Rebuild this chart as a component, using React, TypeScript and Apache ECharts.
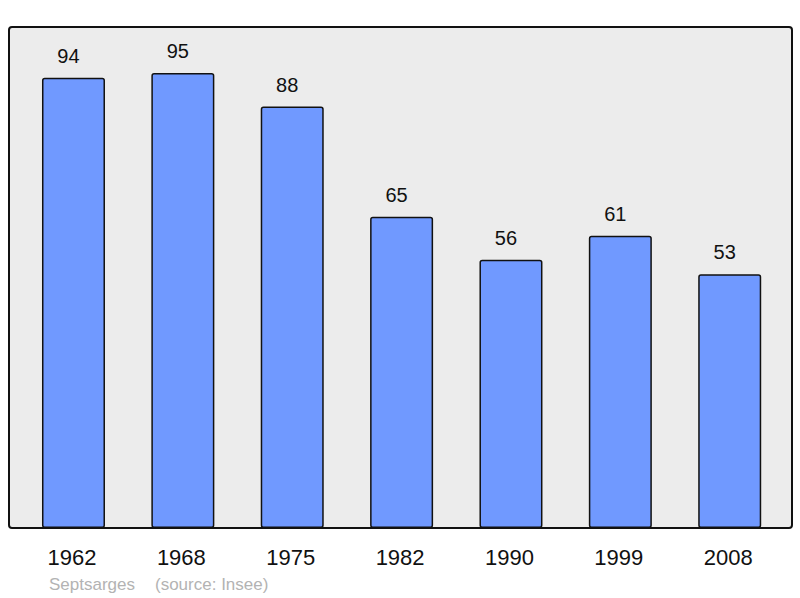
import React, { useEffect, useRef } from "react";
import * as echarts from "echarts";

const years = ["1962", "1968", "1975", "1982", "1990", "1999", "2008"];
const population = [94, 95, 88, 65, 56, 61, 53];
const townName = "Septsarges";
const sourceText = "(source: Insee)";

export default function App() {
  const ref = useRef<HTMLDivElement>(null);
  useEffect(() => {
    if (!ref.current) return;
    const chart = echarts.init(ref.current, null, { renderer: "svg" });
    chart.setOption({
      animation: false,
      backgroundColor: "#ffffff",
      textStyle: { fontFamily: "Liberation Sans, Arial, sans-serif" },
      graphic: [
        {
          type: "rect",
          z: -10,
          shape: { x: 9, y: 27, width: 783, height: 501, r: 3 },
          style: { fill: "#ececec", stroke: "#111", lineWidth: 2 },
        },
        {
          type: "text",
          left: 49,
          top: 576,
          style: {
            text: townName,
            fill: "#b3b3b3",
            fontSize: 17,
            fontFamily: "Liberation Sans, Arial, sans-serif",
          },
        },
        {
          type: "text",
          left: 155,
          top: 576,
          style: {
            text: sourceText,
            fill: "#b3b3b3",
            fontSize: 17,
            fontFamily: "Liberation Sans, Arial, sans-serif",
          },
        },
      ],
      grid: { left: 18.8, right: 15.6, top: 27, bottom: 70, containLabel: false },
      xAxis: {
        type: "category",
        data: years,
        axisLine: { show: false },
        axisTick: { show: false },
        axisLabel: {
          color: "#111",
          fontSize: 22,
          margin: 18,
          padding: [0, 3, 0, 0],
          fontFamily: "Liberation Sans, Arial, sans-serif",
        },
      },
      yAxis: {
        type: "value",
        min: 0,
        max: 104.6,
        show: false,
        splitLine: { show: false },
      },
      series: [
        {
          type: "bar",
          data: population,
          barWidth: 63,
          itemStyle: {
            color: "#7099ff",
            borderColor: "#111",
            borderWidth: 1.5,
            borderRadius: 2,
          },
          label: {
            show: true,
            position: "top",
            distance: 12,
            offset: [-5, 0],
            color: "#111",
            fontSize: 20,
            fontFamily: "Liberation Sans, Arial, sans-serif",
          },
        },
      ],
    });
    return () => chart.dispose();
  }, []);
  return <div ref={ref} style={{ width: 800, height: 598, position: "absolute", left: 0, top: 0 }} />;
}
